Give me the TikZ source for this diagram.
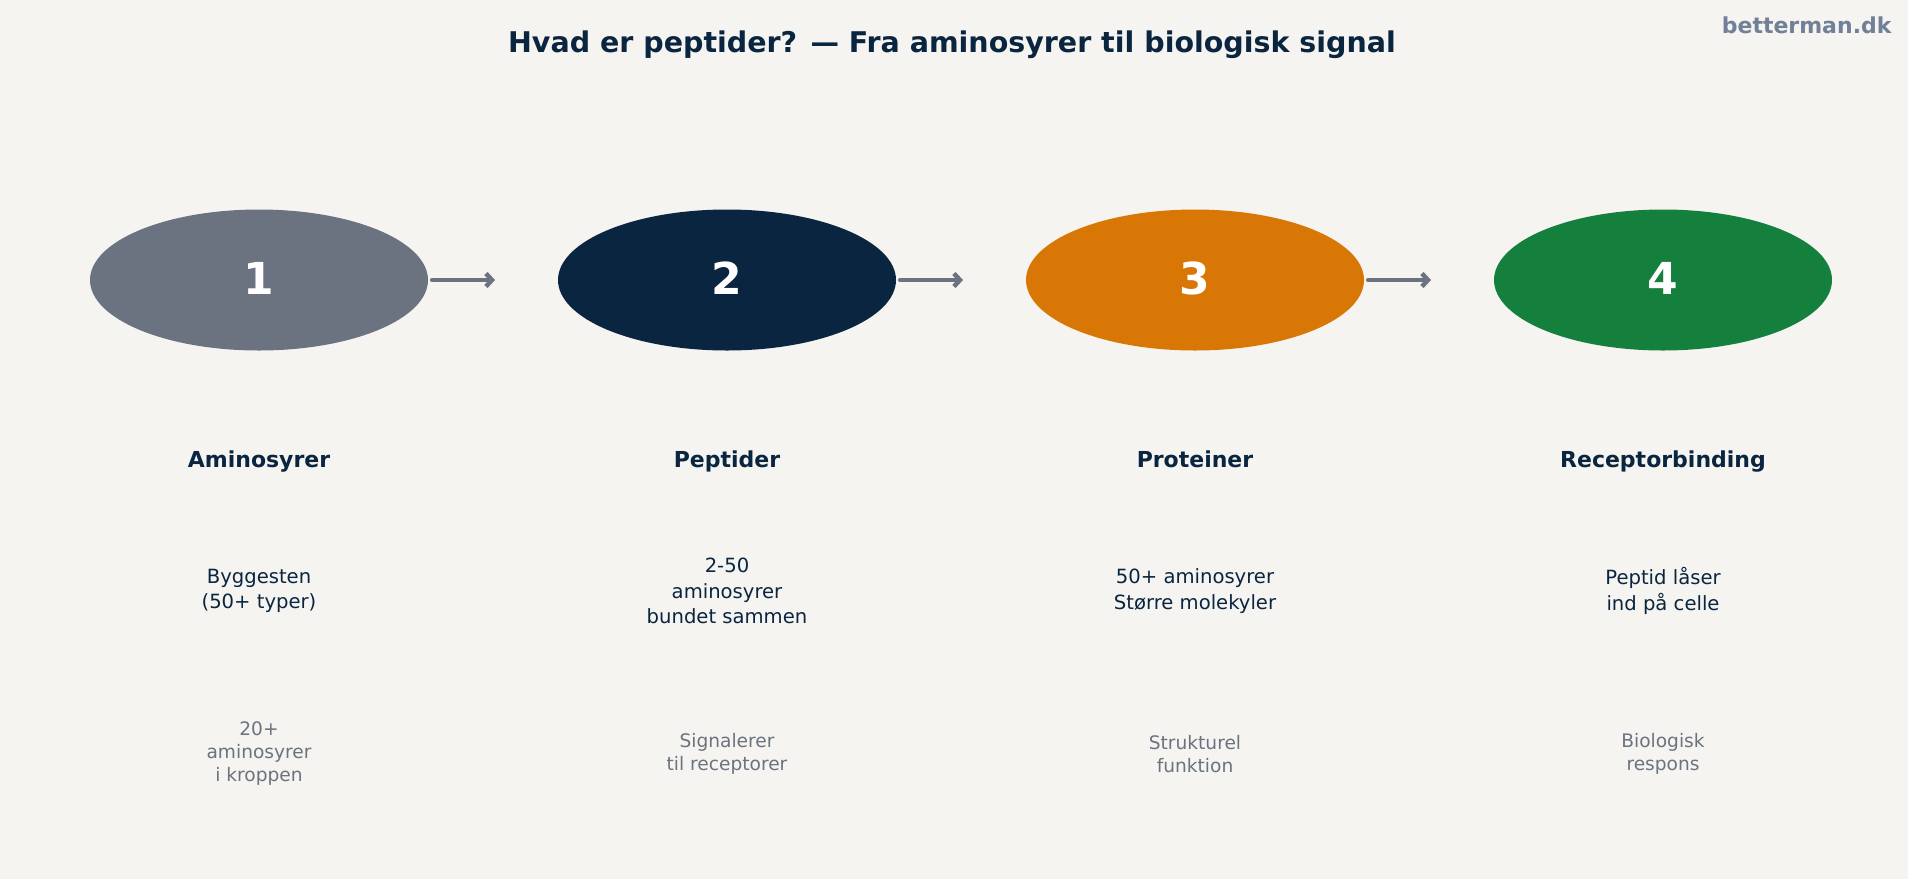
\documentclass[tikz,border=0pt]{standalone}
\usepackage{fontspec}
\setmainfont{DejaVu Sans}
\usetikzlibrary{positioning}
\usetikzlibrary{shapes.geometric}
\usetikzlibrary{arrows.meta}

\definecolor{bgcol}{HTML}{F5F4F0}
\definecolor{navy}{HTML}{0A2540}
\definecolor{slate}{HTML}{6B7280}
\definecolor{amber}{HTML}{D97706}
\definecolor{leaf}{HTML}{15803D}
\definecolor{brand}{HTML}{718096}

\tikzset{
	stepball/.style={ellipse, minimum width=338pt, minimum height=141pt, inner sep=0pt, text=white, font=\fontsize{44}{48}\selectfont\bfseries},
	stepnum/.style={text=white, font=\fontsize{44}{48}\selectfont\bfseries},
	steplabel/.style={text=navy, text height=16pt, text depth=5pt, font=\fontsize{22}{26}\selectfont\bfseries},
	stepdesc/.style={text=navy, align=center, font=\fontsize{19.6}{25.5}\selectfont},
	stepnote/.style={text=slate, align=center, font=\fontsize{18.6}{23}\selectfont},
	flow/.style={draw=slate, line width=4.5pt, line cap=round, -{Straight Barb[length=6pt,width=13pt]}}
}

\begin{document}
\begin{tikzpicture}[x=1pt, y=-1pt]
	\fill[bgcol] (0,0) rectangle (1908,879);
	\useasboundingbox (0,0) rectangle (1908,879);
	
	% TITLE
	\node[text=navy, font=\fontsize{28.5}{32}\selectfont\bfseries] (title) at (952,45) {Hvad er peptider? — Fra aminosyrer til biologisk signal};
	\node[text=brand, font=\fontsize{22}{26}\selectfont\bfseries, anchor=east] (brand) at (1895,25) {betterman.dk};
	
	% FIRST STEP
	\node[stepball, fill=slate] (step1) at (259,280) {};
	\node[stepnum] (num1) at (259,278) {1};
	\node[steplabel] (label1) at (259,462) {Aminosyrer};
	\node[stepdesc] (desc1) at (259,591) {Byggesten\\(50+ typer)};
	\node[stepnote] (note1) at (259,754) {20+\\aminosyrer\\i kroppen};
	
	% SECOND STEP
	\node[stepball, fill=navy] (step2) at (727,280) {};
	\node[stepnum] (num2) at (727,278) {2};
	\node[steplabel] (label2) at (727,462) {Peptider};
	\node[stepdesc] (desc2) at (727,591) {2-50\\aminosyrer\\bundet sammen};
	\node[stepnote] (note2) at (727,754) {Signalerer\\til receptorer};
	
	% THIRD STEP
	\node[stepball, fill=amber] (step3) at (1195,280) {};
	\node[stepnum] (num3) at (1195,278) {3};
	\node[steplabel] (label3) at (1195,462) {Proteiner};
	\node[stepdesc] (desc3) at (1195,591) {50+ aminosyrer\\Større molekyler};
	\node[stepnote] (note3) at (1195,754) {Strukturel\\funktion};
	
	% FOURTH STEP
	\node[stepball, fill=leaf] (step4) at (1663,280) {};
	\node[stepnum] (num4) at (1663,278) {4};
	\node[steplabel] (label4) at (1663,462) {Receptorbinding};
	\node[stepdesc] (desc4) at (1663,591) {Peptid låser\\ind på celle};
	\node[stepnote] (note4) at (1663,754) {Biologisk\\respons};
	
	% ARROWS
	\coordinate (tip1) at (495,280);
	\coordinate (tip2) at (963,280);
	\coordinate (tip3) at (1431,280);
	\draw[flow] ([xshift=4pt]step1.east) -- (tip1);
	\draw[flow] ([xshift=4pt]step2.east) -- (tip2);
	\draw[flow] ([xshift=4pt]step3.east) -- (tip3);
\end{tikzpicture}
\end{document}
